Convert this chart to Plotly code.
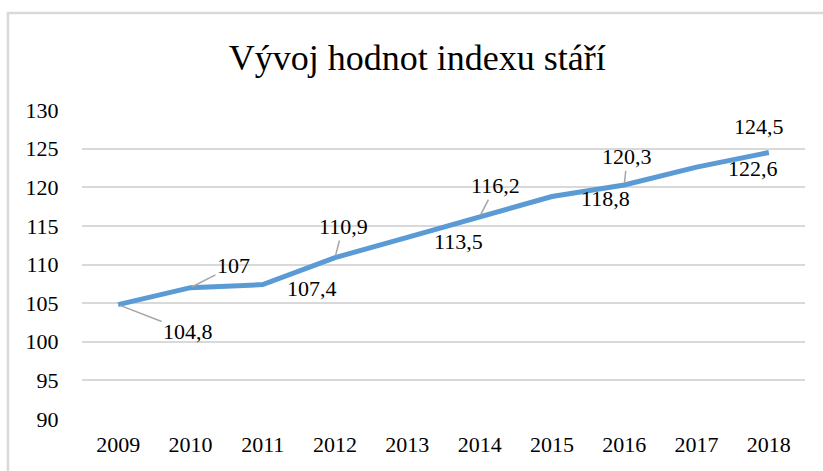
import plotly.graph_objects as go

years = [2009, 2010, 2011, 2012, 2013, 2014, 2015, 2016, 2017, 2018]
values = [104.8, 107, 107.4, 110.9, 113.5, 116.2, 118.8, 120.3, 122.6, 124.5]
labels = ["104,8", "107", "107,4", "110,9", "113,5", "116,2", "118,8", "120,3", "122,6", "124,5"]
y_ticks = [90, 95, 100, 105, 110, 115, 120, 125, 130]

SERIF = "Liberation Serif"

# label offsets (pixels) relative to each point: (dx, dy, leader)
offsets = [(70, 27, True), (43, -22, True), (49, 4, False), (8, -31, True), (51, 4, False),
           (16, -31, True), (54, 2, False), (3, -28, True), (56, 1, False), (-10, -26, False)]

fig = go.Figure()
fig.add_trace(go.Scatter(
    x=years, y=values, mode="lines",
    line=dict(color="#5B9BD5", width=5),
    hoverinfo="skip", showlegend=False,
))

for yr, v, lab, (dx, dy, lead) in zip(years, values, labels, offsets):
    if lead:
        fig.add_annotation(x=yr, y=v, text=lab, showarrow=True, arrowhead=0,
                           arrowwidth=1.5, arrowcolor="#A6A6A6", ax=dx, ay=dy,
                           standoff=2,
                           font=dict(family=SERIF, size=22, color="#000000"))
    else:
        fig.add_annotation(x=yr, y=v, text=lab, showarrow=False, xshift=dx, yshift=-dy,
                           font=dict(family=SERIF, size=22, color="#000000"))

fig.add_shape(type="rect", xref="paper", yref="paper",
              x0=-0.1024, x1=1.05, y0=-0.25, y1=1.314,
              line=dict(color="#D9D9D9", width=2.5), fillcolor="rgba(0,0,0,0)", layer="below")

fig.update_layout(
    width=823, height=471,
    margin=dict(l=82, r=18, t=110, b=52, autoexpand=False),
    paper_bgcolor="white", plot_bgcolor="white",
    title=dict(text="Vývoj hodnot indexu stáří", x=0.507, xanchor="center",
               y=0.879, yanchor="middle",
               font=dict(family=SERIF, size=36, color="#000000")),
    font=dict(family=SERIF, size=22, color="#000000"),
    xaxis=dict(range=[2008.5, 2018.5], tickmode="array", tickvals=years,
               ticktext=[str(y) for y in years], showgrid=False, zeroline=False,
               showline=False, automargin=False,
               ticks="outside", ticklen=6, tickcolor="rgba(0,0,0,0)",
               tickfont=dict(family=SERIF, size=22, color="#000000")),
    yaxis=dict(range=[90, 130], tickvals=y_ticks, showgrid=True, gridcolor="#D9D9D9",
               gridwidth=1.5, zeroline=False, showline=False, automargin=False,
               ticks="outside", ticklen=18, tickcolor="rgba(0,0,0,0)",
               tickfont=dict(family=SERIF, size=22, color="#000000")),
)

fig.write_html("out.html", config={"displayModeBar": False},
               post_script="document.body.style.margin='0';")
